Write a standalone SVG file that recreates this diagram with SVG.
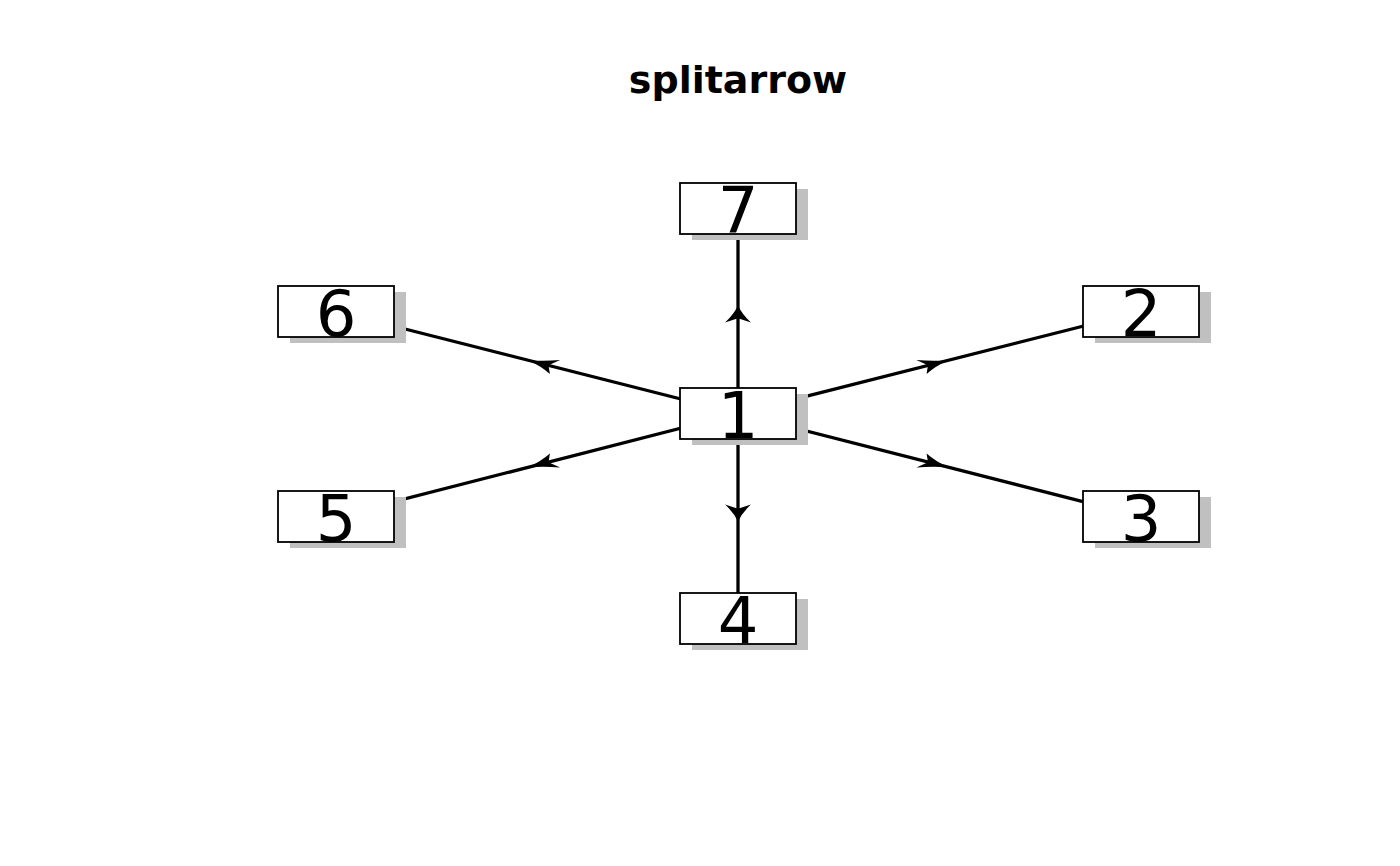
<svg xmlns="http://www.w3.org/2000/svg" xmlns:xlink="http://www.w3.org/1999/xlink" width="1400" height="866" viewBox="0 0 1400 866">
<style>
.ln{stroke:#000;stroke-width:3.3;fill:none}
.sh{fill:#c0c0c0}
.bx{fill:#fff;stroke:#000;stroke-width:1.8}
.lb{font-family:"DejaVu Sans",sans-serif;font-size:64px;text-anchor:middle;fill:#000}
.ti{font-family:"DejaVu Sans",sans-serif;font-weight:bold;font-size:38px;text-anchor:middle;fill:#000}
</style>
<defs>
<path id="ah" d="M0,0 Q-9,-2.5 -17,-7.6 L-12.8,0 L-17,7.6 Q-9,2.5 0,0 Z" fill="#000"/>
</defs>
<rect width="1400" height="866" fill="#fff"/>
<text class="ti" x="738" y="93">splitarrow</text>
<g id="connectors">
<line class="ln" x1="738" y1="413.5" x2="738" y2="208.5"/>
<line class="ln" x1="738" y1="413.5" x2="738" y2="618.5"/>
<line class="ln" x1="738" y1="413.5" x2="1141" y2="311.5"/>
<line class="ln" x1="738" y1="413.5" x2="1141" y2="516.5"/>
<line class="ln" x1="738" y1="413.5" x2="336" y2="311.5"/>
<line class="ln" x1="738" y1="413.5" x2="336" y2="516.5"/>
<use xlink:href="#ah" transform="translate(738,305.5) scale(1.7,1) rotate(-90)"/>
<use xlink:href="#ah" transform="translate(738,521.5) scale(1.7,1) rotate(90)"/>
<use xlink:href="#ah" transform="translate(948.0,360.3) scale(1.7,1) rotate(-23.29)"/>
<use xlink:href="#ah" transform="translate(948.0,467.2) scale(1.7,1) rotate(23.29)"/>
<use xlink:href="#ah" transform="translate(528.5,360.3) scale(1.7,1) rotate(-156.71)"/>
<use xlink:href="#ah" transform="translate(528.5,467.2) scale(1.7,1) rotate(156.71)"/>
</g>
<g id="node1"><rect class="sh" x="692" y="394" width="116" height="51"/><rect class="bx" x="680" y="388" width="116" height="51"/><text class="lb" x="738" y="437.5">1</text></g>
<g id="node2"><rect class="sh" x="1095" y="292" width="116" height="51"/><rect class="bx" x="1083" y="286" width="116" height="51"/><text class="lb" x="1141" y="335.5">2</text></g>
<g id="node3"><rect class="sh" x="1095" y="497" width="116" height="51"/><rect class="bx" x="1083" y="491" width="116" height="51"/><text class="lb" x="1141" y="540.5">3</text></g>
<g id="node4"><rect class="sh" x="692" y="599" width="116" height="51"/><rect class="bx" x="680" y="593" width="116" height="51"/><text class="lb" x="738" y="642.5">4</text></g>
<g id="node5"><rect class="sh" x="290" y="497" width="116" height="51"/><rect class="bx" x="278" y="491" width="116" height="51"/><text class="lb" x="336" y="540.5">5</text></g>
<g id="node6"><rect class="sh" x="290" y="292" width="116" height="51"/><rect class="bx" x="278" y="286" width="116" height="51"/><text class="lb" x="336" y="335.5">6</text></g>
<g id="node7"><rect class="sh" x="692" y="189" width="116" height="51"/><rect class="bx" x="680" y="183" width="116" height="51"/><text class="lb" x="738" y="232.5">7</text></g>
</svg>
